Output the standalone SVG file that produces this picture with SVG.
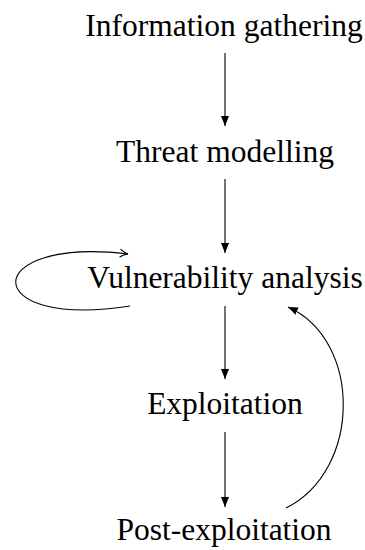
<svg xmlns="http://www.w3.org/2000/svg" width="365" height="550" viewBox="0 0 365 550">
<style>
text{font-family:"Liberation Serif","Times New Roman",serif;font-size:31.5px;fill:#000;text-anchor:middle}
.c{fill:none;stroke:#000;stroke-width:1.1}
</style>
<defs>
<marker id="a" viewBox="0 0 10 8" refX="10" refY="4" markerWidth="10" markerHeight="8" markerUnits="userSpaceOnUse" orient="auto">
<path d="M0,0 L10,4 L0,8 Z" fill="#000"/>
</marker>
<marker id="o" viewBox="0 0 10 10" refX="9" refY="5" markerWidth="10" markerHeight="10" markerUnits="userSpaceOnUse" orient="auto">
<path d="M1,1 Q5,4 9,5 Q5,6 1,9" fill="none" stroke="#000" stroke-width="1.1"/>
</marker>
</defs>
<g id="n1"><text x="224" y="36">Information gathering</text></g>
<g id="n2"><text x="225" y="162">Threat modelling</text></g>
<g id="n3"><text x="225" y="288">Vulnerability analysis</text></g>
<g id="n4"><text x="225" y="414">Exploitation</text></g>
<g id="n5"><text x="224" y="540">Post-exploitation</text></g>
<g id="edges">
<line class="c" x1="225" y1="53" x2="225" y2="126" marker-end="url(#a)"/>
<line class="c" x1="225" y1="179" x2="225" y2="253" marker-end="url(#a)"/>
<line class="c" x1="225" y1="306" x2="225" y2="379" marker-end="url(#a)"/>
<line class="c" x1="225" y1="432" x2="225" y2="507" marker-end="url(#a)"/>
<path class="c" d="M286,508 C362,470 362,340 288,307" marker-end="url(#a)"/>
<path class="c" d="M130,306 C-22,330 -22,236 128,254" marker-end="url(#o)"/>
</g>
</svg>
